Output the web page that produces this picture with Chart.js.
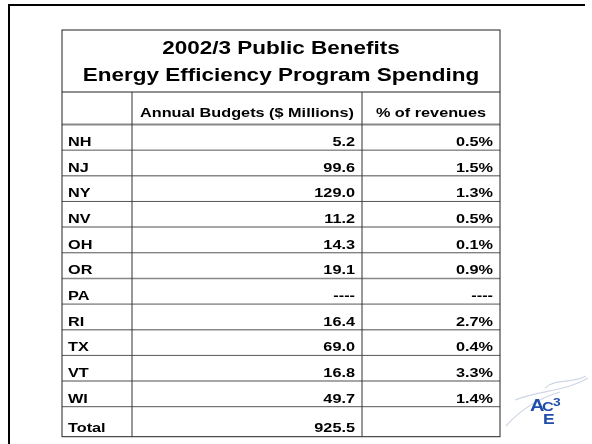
<!DOCTYPE html>
<html lang="en">

<head>
    <meta charset="UTF-8">
    <title>2002/3 Public Benefits</title>
    <style>
        body { margin: 0; background: #fff; }
    </style>
</head>

<body>
    <canvas id="myChart" width="592" height="444"></canvas>

    <script src="https://cdn.jsdelivr.net/npm/chart.js"></script>

    <script>
        // table data
        const v_titleLines = ['2002/3 Public Benefits', 'Energy Efficiency Program Spending'];
        const v_headers = ['Annual Budgets ($ Millions)', '% of revenues'];
        const v_states = ['NH', 'NJ', 'NY', 'NV', 'OH', 'OR', 'PA', 'RI', 'TX', 'VT', 'WI'];
        const v_budget = [5.2, 99.6, 129.0, 11.2, 14.3, 19.1, null, 16.4, 69.0, 16.8, 49.7];
        const v_share = [0.5, 1.5, 1.3, 0.5, 0.1, 0.9, null, 2.7, 0.4, 3.3, 1.4];
        const v_totalLabel = 'Total';
        const v_totalBudget = 925.5;

        const FONT = '"Liberation Sans", Arial, sans-serif';
        const SX = 1.25;                   // slide text is stretched sideways
        const col1 = 132, col2 = 362;      // column dividers
        const tableTop = 30, titleBottom = 92;
        const totalHeight = 30;

        function line(ctx, x1, y1, x2, y2, color, w) {
            ctx.beginPath();
            ctx.strokeStyle = color;
            ctx.lineWidth = w;
            ctx.moveTo(x1, y1);
            ctx.lineTo(x2, y2);
            ctx.stroke();
        }

        function text(ctx, str, x, y, align, size, color) {
            ctx.save();
            ctx.translate(x, y);
            ctx.scale(SX, 1);
            ctx.font = 'bold ' + size + 'px ' + FONT;
            ctx.fillStyle = color || '#000';
            ctx.textAlign = align;
            ctx.textBaseline = 'alphabetic';
            ctx.fillText(str, 0, 0);
            ctx.restore();
        }

        const tablePlugin = {
            id: 'tablePlugin',
            afterDraw(chart) {
                const ctx = chart.ctx;
                const area = chart.chartArea;
                const y = chart.scales.y;
                const n = v_states.length;
                const band = (area.bottom - area.top) / n;
                const left = area.left, right = area.right;
                const bottom = area.bottom + totalHeight;
                ctx.save();

                // slide frame
                line(ctx, 8, 5, 585, 5, '#000', 2);
                line(ctx, 9, 4, 9, 444, '#000', 2);

                // title
                text(ctx, v_titleLines[0], (left + right) / 2, 53.5, 'center', 18);
                text(ctx, v_titleLines[1], (left + right) / 2, 81, 'center', 18);

                // header
                text(ctx, v_headers[0], (col1 + col2) / 2, 117, 'center', 13);
                text(ctx, v_headers[1], (col2 + right) / 2, 117, 'center', 13);

                // rows
                const ds0 = chart.data.datasets[0].data;
                const ds1 = chart.data.datasets[1].data;
                for (let i = 0; i < n; i++) {
                    const yc = y.getPixelForValue(i);
                    const yb = yc + band / 2;
                    text(ctx, chart.data.labels[i], left + 6, yb - 4, 'left', 13);
                    text(ctx, ds0[i] == null ? '----' : ds0[i].toFixed(1), col2 - 7, yb - 4, 'right', 13);
                    text(ctx, ds1[i] == null ? '----' : ds1[i].toFixed(1) + '%', right - 7, yb - 4, 'right', 13);
                    line(ctx, left, yb, right, yb, (i % 2 == 0) ? '#555' : '#888', (i % 2 == 0) ? 1 : 1.5);
                }
                text(ctx, v_totalLabel, left + 6, bottom - 4.5, 'left', 13);
                text(ctx, v_totalBudget.toFixed(1), col2 - 7, bottom - 4.5, 'right', 13);

                // grid lines
                line(ctx, left, titleBottom, right, titleBottom, '#222', 1);
                line(ctx, left, area.top, right, area.top, '#888', 2);
                line(ctx, col1, titleBottom, col1, bottom, '#333', 1);
                line(ctx, col2, titleBottom, col2, bottom, '#333', 1);
                ctx.strokeStyle = '#222';
                ctx.lineWidth = 1;
                ctx.strokeRect(left, tableTop, right - left, bottom - tableTop);

                // ACE3 logo
                ctx.strokeStyle = '#cdd6e6';
                ctx.lineWidth = 1.2;
                ctx.beginPath();
                ctx.moveTo(506, 426);
                ctx.bezierCurveTo(520, 410, 540, 398, 560, 392);
                ctx.moveTo(515, 400);
                ctx.bezierCurveTo(540, 390, 565, 392, 588, 378);
                ctx.moveTo(545, 388);
                ctx.bezierCurveTo(555, 378, 572, 384, 586, 376);
                ctx.stroke();
                text(ctx, 'A', 530, 411, 'left', 16, '#1f4fa8');
                text(ctx, 'C', 542, 411, 'left', 13, '#1f4fa8');
                text(ctx, 'E', 543, 424, 'left', 14, '#1f4fa8');
                text(ctx, '3', 553, 406, 'left', 11, '#1f4fa8');
                ctx.restore();
            }
        };

        new Chart(document.getElementById('myChart'), {
            type: 'bar',
            data: {
                labels: v_states,
                datasets: [{
                    label: v_headers[0],
                    data: v_budget,
                    backgroundColor: 'rgba(0,0,0,0)',
                    xAxisID: 'x'
                }, {
                    label: v_headers[1],
                    data: v_share,
                    backgroundColor: 'rgba(0,0,0,0)',
                    xAxisID: 'x2'
                }]
            },
            options: {
                indexAxis: 'y',
                responsive: false,
                animation: false,
                layout: {
                    padding: { left: 62, right: 92, top: 124.5, bottom: 37.3 }
                },
                scales: {
                    x: { display: false, beginAtZero: true },
                    x2: { display: false, beginAtZero: true },
                    y: { display: false, offset: true }
                },
                plugins: {
                    legend: { display: false },
                    tooltip: { enabled: false }
                }
            },
            plugins: [tablePlugin]
        });
    </script>
</body>

</html>
